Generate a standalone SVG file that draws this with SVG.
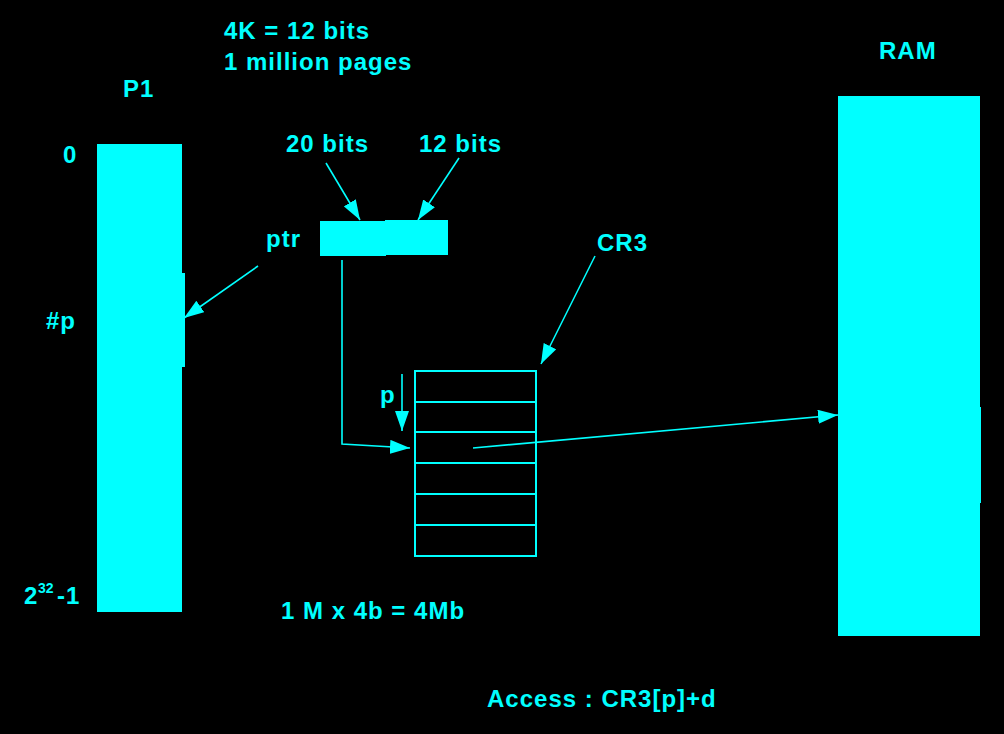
<svg xmlns="http://www.w3.org/2000/svg" width="1004" height="734" viewBox="0 0 1004 734">
<defs>
<style>
.t{font-family:"Liberation Sans",Arial,sans-serif;font-size:24px;font-weight:bold;fill:#00ffff;letter-spacing:1px}
.f{fill:#00ffff}
.c{stroke:#00ffff;stroke-width:1.6;fill:none}
.tb{stroke:#00ffff;stroke-width:2;fill:none}
</style>
<marker id="ah" viewBox="0 0 20 14" refX="20" refY="7" markerWidth="20" markerHeight="14" markerUnits="userSpaceOnUse" orient="auto">
<path d="M0,0 L20,7 L0,14 z" fill="#00ffff"/>
</marker>
</defs>
<rect width="1004" height="734" fill="#000"/>
<g id="header">
<text class="t" x="224" y="39">4K = 12 bits</text>
<text class="t" x="224" y="70">1 million pages</text>
</g>
<g id="p1">
<text class="t" x="123" y="97">P1</text>
<rect class="f" x="97" y="144" width="85" height="468"/>
<rect class="f" x="180" y="273" width="5" height="94"/>
<text class="t" x="63" y="163">0</text>
<text class="t" x="46" y="329">#p</text>
<text class="t" x="24" y="604">2</text>
<text class="t" x="38" y="593" style="font-size:14px;letter-spacing:0">32</text>
<text class="t" x="57" y="604">-1</text>
</g>
<g id="ram">
<text class="t" x="879" y="59">RAM</text>
<rect class="f" x="838" y="96" width="142" height="540"/>
<rect class="f" x="978" y="407" width="3" height="96"/>
</g>
<g id="address">
<rect class="f" x="320" y="221" width="66" height="35"/>
<rect class="f" x="385" y="220" width="63" height="35"/>
<text class="t" x="286" y="152">20 bits</text>
<text class="t" x="419" y="152">12 bits</text>
<text class="t" x="266" y="247">ptr</text>
</g>
<g id="pagetable">
<rect class="tb" x="415" y="371" width="121" height="185"/>
<path class="tb" d="M415,402H536M415,432H536M415,463H536M415,494H536M415,525H536"/>
<text class="t" x="380" y="403">p</text>
<text class="t" x="597" y="251">CR3</text>
</g>
<g id="notes">
<text class="t" x="281" y="619">1 M x 4b = 4Mb</text>
<text class="t" x="487" y="707">Access : CR3[p]+d</text>
</g>
<g id="connectors">
<line class="c" x1="326" y1="163" x2="360" y2="220" marker-end="url(#ah)"/>
<line class="c" x1="459" y1="158" x2="418" y2="220" marker-end="url(#ah)"/>
<line class="c" x1="258" y1="266" x2="184" y2="318" marker-end="url(#ah)"/>
<line class="c" x1="595" y1="256" x2="541" y2="364" marker-end="url(#ah)"/>
<line class="c" x1="402" y1="374" x2="402" y2="431" marker-end="url(#ah)"/>
<polyline class="c" points="342,260 342,444 410,448" marker-end="url(#ah)"/>
<line class="c" x1="473" y1="448" x2="838" y2="415" marker-end="url(#ah)"/>
</g>
</svg>
